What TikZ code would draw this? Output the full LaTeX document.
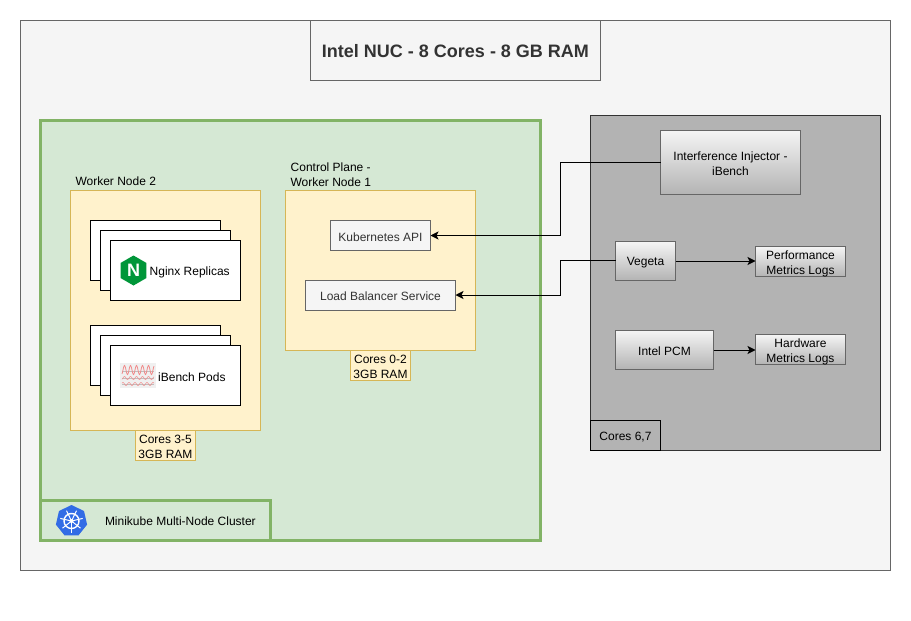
\documentclass[tikz,border=0pt]{standalone}
\usepackage{fontspec}
\setmainfont{Liberation Sans}
\usetikzlibrary{positioning, arrows.meta, shapes.geometric}

\definecolor{hostfill}{HTML}{F5F5F5}
\definecolor{hostline}{HTML}{666666}
\definecolor{clusterfill}{HTML}{D5E8D4}
\definecolor{clusterline}{HTML}{82B366}
\definecolor{nodefill}{HTML}{FFF2CC}
\definecolor{nodeline}{HTML}{D6B656}
\definecolor{benchfill}{HTML}{B3B3B3}
\definecolor{textgray}{HTML}{333333}
\definecolor{nginxgreen}{HTML}{009639}
\definecolor{kubeblue}{HTML}{326CE5}
\definecolor{wavered}{HTML}{F08A8A}

\newcommand{\boxstrut}{\rule[-1pt]{0pt}{13pt}}

\tikzset{
	plain/.style={inner sep=0pt, outer sep=0pt, font=\fontsize{12}{15}\selectfont, align=center,
		execute at begin node=\boxstrut, execute at end node=\boxstrut},
	twolines/.style={text height=25pt, text depth=0pt},
	basebox/.style={plain, rectangle, draw, line width=1pt},
	hostbox/.style={basebox, draw=hostline, fill=hostfill, text=textgray},
	clusterbox/.style={basebox, draw=clusterline, fill=clusterfill, line width=2.6pt},
	workerbox/.style={basebox, draw=nodeline, fill=nodefill},
	podbox/.style={basebox, draw=black, fill=white, minimum width=130, minimum height=60},
	benchbox/.style={basebox, draw=black!80, fill=benchfill},
	toolbox/.style={basebox, draw=hostline, top color=hostfill, bottom color=benchfill},
	link/.style={draw=black, line width=1pt, -{Stealth[length=8pt, width=8pt, inset=2pt]}}
}

\begin{document}
\begin{tikzpicture}[x=1pt, y=-1pt]
	\useasboundingbox (0,0) rectangle (911,621);

	\node[hostbox, minimum width=870, minimum height=550] (nuc) at (455.5,295.5) {};
	\node[hostbox, minimum width=290, minimum height=60, font=\fontsize{18}{22}\selectfont\bfseries, text height=16pt, text depth=2pt] (title) at (455.5,50.5) {Intel NUC - 8 Cores - 8 GB RAM};

	\node[clusterbox, minimum width=500, minimum height=420] (cluster) at (290.5,330.5) {};
	\node[clusterbox, minimum width=230, minimum height=40] (minikube) at (155.5,520.5) {};
	\node[plain, anchor=west] (minikubetext) at (105,520) {Minikube Multi-Node Cluster};

	\node[regular polygon, regular polygon sides=7, fill=kubeblue, minimum size=32, inner sep=0pt] (kubelogo) at (71.5,521) {};
	\draw[white, line width=1.4pt] (kubelogo.center) circle (7.5);
	\fill[white] (kubelogo.center) circle (2);
	\foreach \a in {90,141.4,192.9,244.3,295.7,347.1,398.6}
		\draw[white, line width=1pt] (kubelogo.center) -- ++(\a:11.5);

	\node[workerbox, minimum width=190, minimum height=240] (worker2) at (165.5,310.5) {};
	\node[plain, anchor=south west] (worker2text) at ([xshift=5pt, yshift=4pt]worker2.north west) {Worker Node 2};
	\node[workerbox, twolines, minimum width=60, minimum height=30] (cores2) at (165.5,445.5) {Cores 3-5\\3GB RAM};

	\node[podbox] (nginx3) at (155.5,250.5) {};
	\node[podbox] (nginx2) at ([shift={(10,10)}]nginx3.center) {};
	\node[podbox] (nginx1) at ([shift={(10,10)}]nginx2.center) {};
	\node[regular polygon, regular polygon sides=6, shape border rotate=30, fill=nginxgreen, text=white, minimum size=30, inner sep=0pt, font=\fontsize{18}{18}\selectfont\bfseries] (nginxlogo) at (133.5,270.5) {N};
	\node[plain, right=3 of nginxlogo] (nginxtext) {Nginx Replicas};

	\node[podbox] (ibench3) at (155.5,355.5) {};
	\node[podbox] (ibench2) at ([shift={(10,10)}]ibench3.center) {};
	\node[podbox] (ibench1) at ([shift={(10,10)}]ibench2.center) {};
	\node[fill=black!6, minimum width=36, minimum height=25, inner sep=0pt] (ibenchlogo) at (138,375.5) {};
	\draw[black!25, line width=0.4pt] (122,371) -- (154,371) (122,378) -- (154,378) (122,384) -- (154,384);
	\draw[wavered, line width=0.8pt, domain=-16:16, samples=65] plot ({138+\x},{370+4.5*sin(60*\x)});
	\draw[wavered, line width=0.5pt, domain=-16:16, samples=65] plot ({138+\x},{378+1.5*sin(60*\x)});
	\draw[wavered, line width=0.5pt, domain=-16:16, samples=65] plot ({138+\x},{384+1.5*sin(60*\x+90)});
	\node[plain, right=2 of ibenchlogo] (ibenchtext) {iBench Pods};

	\node[workerbox, minimum width=190, minimum height=160] (worker1) at (380.5,270.5) {};
	\node[plain, anchor=south west] (worker1text) at ([xshift=5pt, yshift=3pt]worker1.north west) {Control Plane -\\Worker Node 1};
	\node[workerbox, twolines, minimum width=60, minimum height=30] (cores1) at (380.5,365.5) {Cores 0-2\\3GB RAM};
	\node[hostbox, minimum width=100, minimum height=30] (api) at (380.5,235.5) {Kubernetes API};
	\node[hostbox, minimum width=150, minimum height=30] (balancer) at (380.5,295) {Load Balancer Service};

	\node[benchbox, minimum width=290, minimum height=335] (bench) at (735.5,283) {};
	\node[basebox, fill=benchfill, minimum width=70, minimum height=30] (cores3) at (625.5,435.5) {Cores 6,7};
	\node[toolbox, twolines, minimum width=140, minimum height=64] (injector) at (730.5,162.5) {Interference Injector -\\iBench};
	\node[toolbox, minimum width=60, minimum height=39] (vegeta) at (645.5,261) {Vegeta};
	\node[toolbox, twolines, minimum width=90, minimum height=30] (perflogs) at (800.5,261.5) {Performance\\Metrics Logs};
	\node[toolbox, minimum width=98, minimum height=39] (pcm) at (664.5,350) {Intel PCM};
	\node[toolbox, twolines, minimum width=90, minimum height=30] (hwlogs) at (800.5,349.5) {Hardware\\Metrics Logs};

	\coordinate (bus) at (560.5,0);
	\draw[link] (injector.west) -- (injector.west -| bus) |- (api.east);
	\draw[link] ([yshift=0.5pt]vegeta.west) -- ([yshift=0.5pt]vegeta.west -| bus) |- (balancer.east);
	\draw[link] (vegeta.east) -- (vegeta.east -| perflogs.west);
	\draw[link] (pcm.east) -- (pcm.east -| hwlogs.west);
\end{tikzpicture}
\end{document}
